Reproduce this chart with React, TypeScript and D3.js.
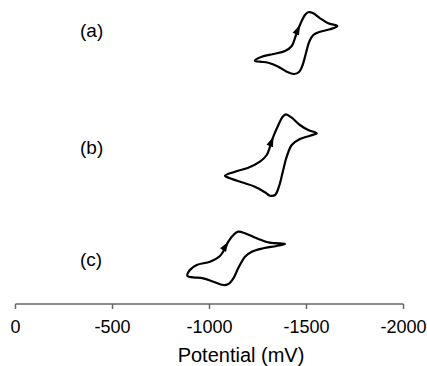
import * as d3 from "d3";

// potentials in mV, currents in arbitrary units (upper branch then return branch)
const potentialA = [-1234, -1269, -1329, -1389, -1424, -1446, -1466, -1492, -1509, -1535, -1570, -1612, -1659,
  -1621, -1570, -1535, -1514, -1497, -1480, -1463, -1436, -1398, -1355, -1303, -1260];
const currentA = [-17.7, -13.7, -11, -8, -3, 8, 18, 28, 30.7, 29.7, 24.7, 19.7, 17,
  13.7, 11.3, 8, 1.3, -10.3, -22, -28.7, -31, -28.7, -23.7, -19.7, -18.7];

const potentialB = [-1080, -1131, -1200, -1260, -1295, -1312, -1329, -1355, -1377, -1394, -1424, -1466, -1509, -1553,
  -1518, -1466, -1424, -1398, -1380, -1358, -1338, -1312, -1286, -1234, -1166, -1106];
const currentB = [-20.7, -16.7, -12.7, -6.7, 0, 8.3, 18.3, 30, 38.3, 40.7, 37.3, 30, 25, 21.7,
  19.3, 16, 10, -1.7, -15, -31.7, -40, -40.7, -37.3, -31.7, -27.3, -23.3];

const potentialC = [-886, -899, -934, -1003, -1054, -1080, -1097, -1123, -1148, -1183, -1243, -1312, -1389,
  -1346, -1277, -1218, -1183, -1148, -1123, -1097, -1071, -1020, -968, -916];
const currentC = [-18, -12, -7, -3.7, 2, 9.7, 16.3, 23, 26.3, 24.7, 19.7, 15.3, 14,
  12, 9.7, 6.3, 1.3, -10.3, -20.3, -26, -27, -23.7, -20.3, -19.3];

const panelLabels = ["(a)", "(b)", "(c)"];
const tickValues = [0, -500, -1000, -1500, -2000];
const arrowIndex = [6, 6, 6];

const width = 427;
const height = 366;
const axisY = 304;
const panelCenters = [43, 155, 258];
const labelBaselines = [37, 154, 266];
const font = "'Liberation Sans', Arial, sans-serif";

export default function App() {
  const x = d3.scaleLinear().domain([0, -2000]).range([15.5, 403.5]);
  const y = d3.scaleLinear().domain([-1, 1]).range([1, -1]);

  const series = [
    { e: potentialA, i: currentA },
    { e: potentialB, i: currentB },
    { e: potentialC, i: currentC },
  ];

  const tickSize = 5;

  return (
    <svg
      width={width}
      height={height}
      style={{ position: "absolute", left: 0, top: 0, background: "#fff" }}
    >
      {series.map((s, k) => {
        const pts: [number, number][] = s.e.map((e, j) => [x(e), panelCenters[k] + y(s.i[j])]);
        const line = d3.line().curve(d3.curveCatmullRomClosed.alpha(0.5));
        const ai = arrowIndex[k];
        const [tx, ty] = pts[ai];
        const [px, py] = pts[ai - 1];
        const [nx, ny] = pts[ai + 1];
        const ang = (Math.atan2(ny - py, nx - px) * 180) / Math.PI;
        return (
          <g key={k}>
            <path d={line(pts) || ""} fill="none" stroke="#000" strokeWidth={2.2} strokeLinejoin="round" />
            <path
              d="M0,0 L-10,-3.5 L-10,3.5 Z"
              fill="#000"
              transform={`translate(${tx},${ty}) rotate(${ang})`}
            />
            <text x={80} y={labelBaselines[k]} fontFamily={font} fontSize={19} fill="#000">
              {panelLabels[k]}
            </text>
          </g>
        );
      })}

      <line x1={x(0)} x2={x(-2000)} y1={axisY} y2={axisY} stroke="#666" strokeWidth={1.5} />
      {tickValues.map((t) => (
        <g key={t} transform={`translate(${x(t)},${axisY})`}>
          <line y1={0} y2={tickSize} stroke="#666" strokeWidth={1.5} />
          <text y={29} textAnchor="middle" fontFamily={font} fontSize={18} fill="#000">
            {t}
          </text>
        </g>
      ))}
      <text x={241} y={362} textAnchor="middle" fontFamily={font} fontSize={20} fill="#000">
        Potential (mV)
      </text>
    </svg>
  );
}
